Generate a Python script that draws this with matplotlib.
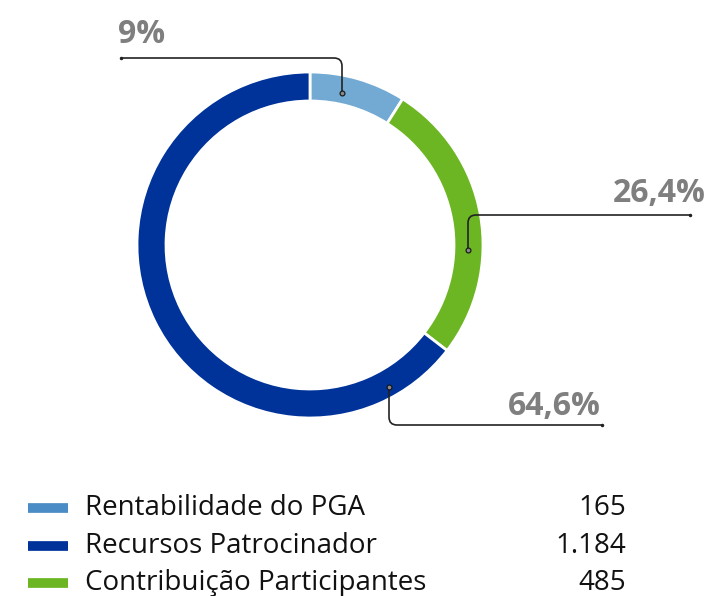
import matplotlib.pyplot as plt
from matplotlib.path import Path
from matplotlib.patches import PathPatch

# dados do grafico
categorias = ['Rentabilidade do PGA', 'Recursos Patrocinador', 'Contribuição Participantes']
valores = [165, 1184, 485]
valores_txt = ['165', '1.184', '485']
cores_fatia = ['#72AAD3', '#00339A', '#6CB523']
cores_legenda = ['#4A8CC5', '#00339A', '#6CB523']

# ordem das fatias no anel (sentido horario a partir do topo)
ordem = [0, 2, 1]
rotulos_pct = ['9%', '26,4%', '64,6%']

W, H = 712, 596
fig = plt.figure(figsize=(W / 100, H / 100), dpi=100)
ax = fig.add_axes([0, 0, 1, 1])


def py(y):
    # converte coordenada de pixel (topo=0) para eixo
    return H - y


cx, cy, R = 310, 245, 173
ax.pie([valores[i] for i in ordem], colors=[cores_fatia[i] for i in ordem],
       startangle=90, counterclock=False, center=(cx, py(cy)), radius=R,
       wedgeprops=dict(width=29, edgecolor='white', linewidth=2), frame=True)
ax.set_xlim(0, W)
ax.set_ylim(0, H)
ax.set_aspect('equal')
ax.axis('off')


def leader(p0, corner, p1, r=8):
    # linha de chamada com canto arredondado
    x0, y0 = p0
    xc, yc = corner
    x1, y1 = p1
    dy = 1 if yc > y0 else -1
    dx = 1 if x1 > xc else -1
    verts = [(x0, y0), (xc, yc - dy * r), (xc, yc), (xc + dx * r, yc), (x1, y1)]
    codes = [Path.MOVETO, Path.LINETO, Path.CURVE3, Path.CURVE3, Path.LINETO]
    ax.add_patch(PathPatch(Path(verts, codes), fill=False, color='#222222', lw=1.2))
    ax.plot([x0], [y0], 'o', ms=3.5, mfc='#888888', mec='#111111', mew=0.8)
    ax.plot([x1], [y1], 'o', ms=1.5, color='#222222')


leader((342, py(93)), (342, py(58)), (121, py(58)))
leader((468, py(250)), (468, py(215)), (690, py(215)))
leader((389, py(387)), (389, py(425)), (602, py(425)))

pct_kw = dict(color='#7F7F7F', fontsize=23, fontweight='bold', family='Open Sans', va='baseline')
ax.text(118, py(43), rotulos_pct[0], ha='left', **pct_kw)
ax.text(706, py(202), rotulos_pct[1], ha='right', **pct_kw)
ax.text(601, py(415), rotulos_pct[2], ha='right', **pct_kw)

# legenda com valores
leg_y = [508, 546, 583]
for i in range(len(categorias)):
    y = py(leg_y[i])
    ax.plot([28, 68], [y, y], color=cores_legenda[i], lw=7, solid_capstyle='butt')
    ax.text(85, y, categorias[i], fontsize=20, family='Open Sans',
            color='#111111', va='center', ha='left')
    ax.text(626, y, valores_txt[i], fontsize=20, family='Open Sans',
            color='#111111', va='center', ha='right')

fig.savefig('out.png', dpi=100)
